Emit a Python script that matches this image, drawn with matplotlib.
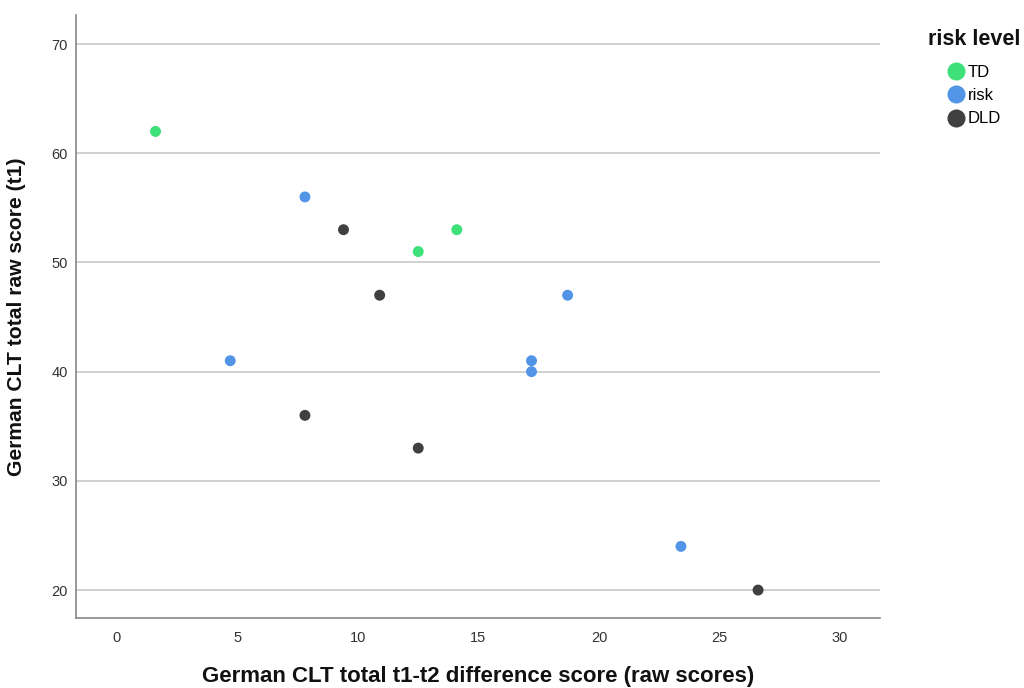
import matplotlib
matplotlib.use("Agg")
import matplotlib.pyplot as plt
from matplotlib.lines import Line2D

plt.rcParams['font.family'] = ['Liberation Sans', 'DejaVu Sans']

# difference score (t1-t2) vs total raw score at t1, per risk group
groups = ["TD", "risk", "DLD"]
colors = ["#3ee07a", "#5294e6", "#404040"]

td_diff = [1.6, 12.5, 14.1]
td_score = [62, 51, 53]

risk_diff = [7.8, 4.7, 17.2, 17.2, 18.7, 23.4]
risk_score = [56, 41, 41, 40, 47, 24]

dld_diff = [9.4, 10.9, 7.8, 12.5, 26.6]
dld_score = [53, 47, 36, 33, 20]

x_ticks = [0, 5, 10, 15, 20, 25, 30]
y_ticks = [20, 30, 40, 50, 60, 70]

fig = plt.figure(figsize=(10.24, 6.88), dpi=100)
ax = fig.add_axes([0.0742, 0.1017, 0.7852, 0.8765])

series = [(td_diff, td_score), (risk_diff, risk_score), (dld_diff, dld_score)]
for (xs, ys), c in zip(series, colors):
    ax.scatter(xs, ys, s=62, color=c, edgecolors='none', zorder=3)

ax.set_xlim(-1.7, 31.66)
ax.set_ylim(17.44, 72.66)
ax.set_xticks(x_ticks)
ax.set_yticks(y_ticks)
ax.tick_params(length=0, labelsize=10.5, labelcolor='#333333')
ax.tick_params(axis='x', pad=9)
ax.tick_params(axis='y', pad=6)

ax.yaxis.grid(True, color='#c8c8c8', linewidth=1.2)
ax.set_axisbelow(True)
for side in ['top', 'right']:
    ax.spines[side].set_visible(False)
for side in ['left', 'bottom']:
    ax.spines[side].set_color('#888888')
    ax.spines[side].set_linewidth(1.2)

ax.set_xlabel("German CLT total t1-t2 difference score (raw scores)",
              fontsize=16, fontweight='bold', color='#111111')
ax.xaxis.set_label_coords(0.5, -0.08)
ax.set_ylabel("German CLT total raw score (t1)",
              fontsize=15.2, fontweight='bold', color='#111111')
ax.yaxis.set_label_coords(-0.062, 0.5)

# legend: bold title, then marker entries slightly indented
fig.text(0.906, 0.942, "risk level", fontsize=15.5, fontweight='bold',
         color='#111111', va='center', ha='left')
handles = [Line2D([], [], marker='o', linestyle='none', markersize=13,
                  markerfacecolor=c, markeredgecolor='none') for c in colors]
fig.legend(handles, groups, loc='upper left',
           bbox_to_anchor=(0.925, 0.906), frameon=False,
           fontsize=12, handletextpad=0.25, labelspacing=0.5,
           handlelength=1.0, borderpad=0.0, borderaxespad=0.0)

fig.savefig("out.png", dpi=100)
